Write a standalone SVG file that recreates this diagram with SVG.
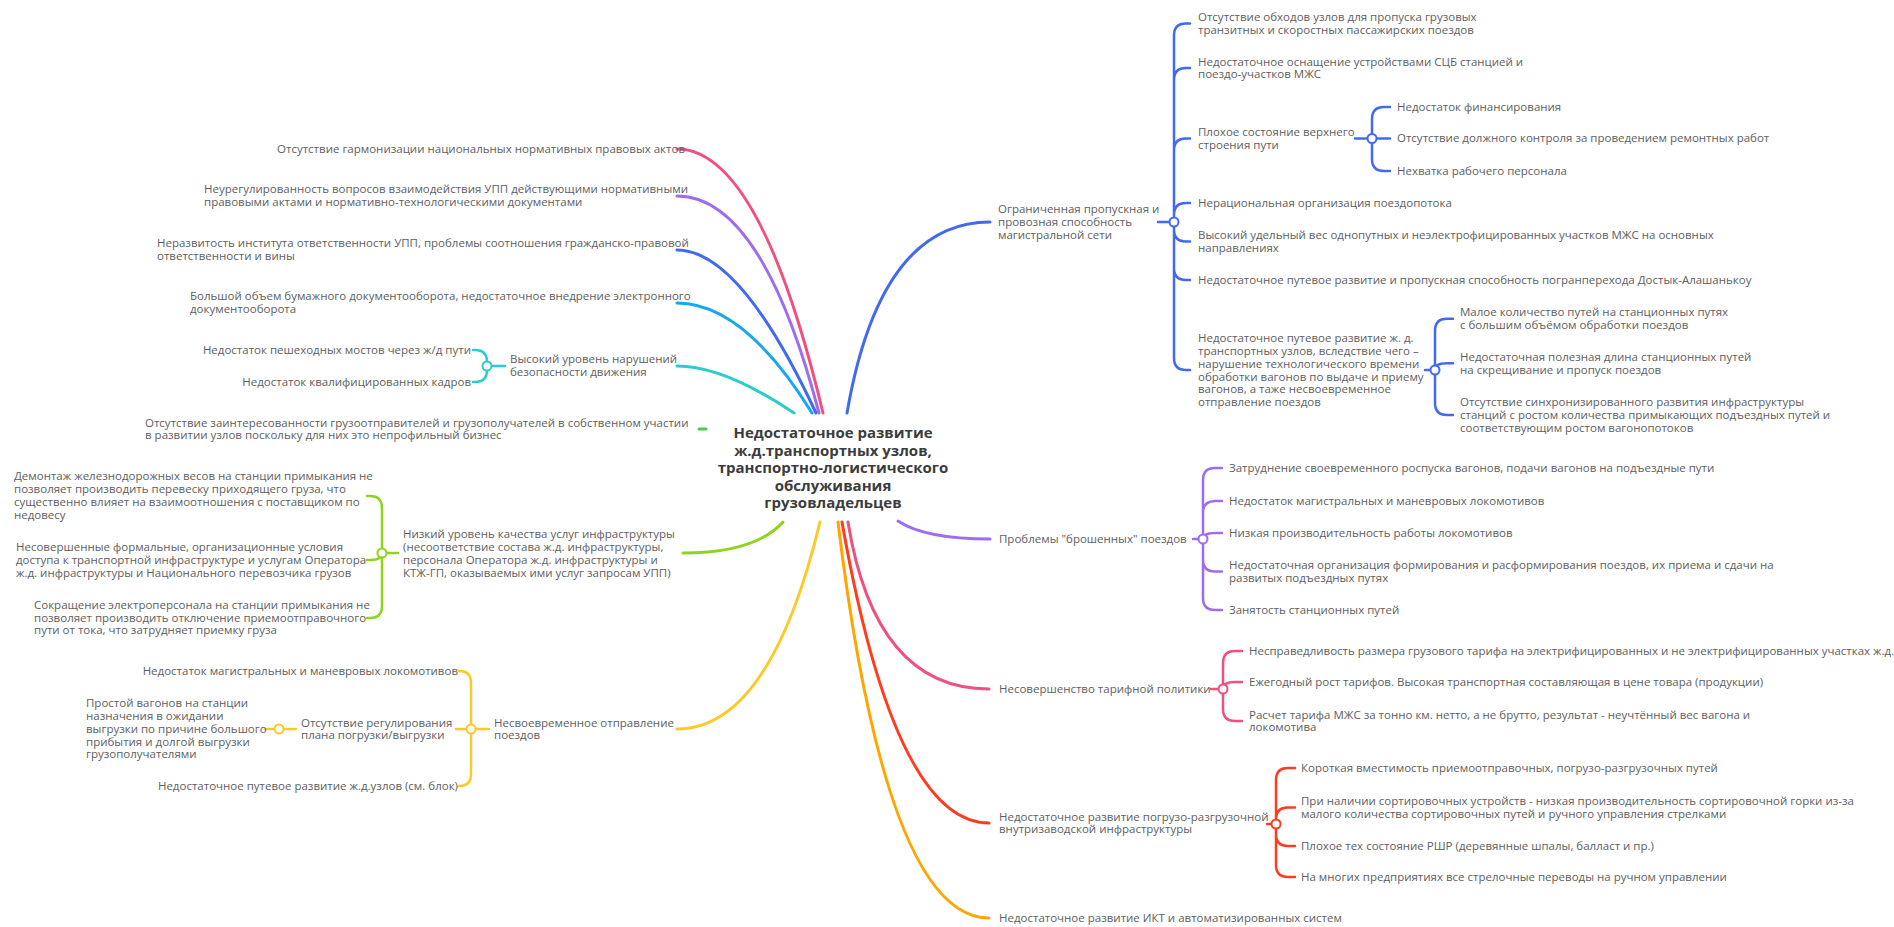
<svg xmlns="http://www.w3.org/2000/svg" width="1894" height="927" viewBox="0 0 1894 927">
<style>
.t{font-family:"Open Sans","Noto Sans",sans-serif;font-size:11.5px;fill:#5e5e5e}
.e{text-anchor:end}
.c{font-family:"Open Sans","Noto Sans",sans-serif;font-size:15px;font-weight:700;fill:#3c3c3c;text-anchor:middle}
.m{fill:none;stroke-width:3;stroke-linecap:round}
.s{fill:none;stroke-width:2.5;stroke-linecap:round}
.k{fill:#fff;stroke-width:2}
.pink{stroke:#f0507f}.purple{stroke:#9d6df0}.blue{stroke:#4169f2}.lblue{stroke:#17a6f2}.cyan{stroke:#2dcccc}
.green{stroke:#4cc84c}.lime{stroke:#8ed41c}.yellow{stroke:#fdc82a}.red{stroke:#ff3c1e}.orange{stroke:#ffa500}
</style>
<rect width="1894" height="927" fill="#fff"/>
<g id="connectors">
<path class="m pink" d="M677 149Q760 149 823 413"/>
<path class="m purple" d="M677 196Q762 196 819 413"/>
<path class="m blue" d="M677 250Q740 250 816 413"/>
<path class="m lblue" d="M677 303Q744 303 812 413"/>
<path class="m cyan" d="M677 366Q724 366 794 413"/>
<path class="m green" d="M699 429H706"/>
<path class="m lime" d="M683 553Q755 553 783 522"/>
<path class="m yellow" d="M677 729Q770 729 820 522"/>
<path class="m blue" d="M847 413Q880 222 990 222"/>
<path class="m purple" d="M898 521Q925 539 990 539"/>
<path class="m pink" d="M848 522Q875 689 989 689"/>
<path class="m red" d="M842 522Q895 823 989 823"/>
<path class="m orange" d="M838 522Q886 918 989 918"/>
<!-- R1 bracket -->
<path class="s blue" d="M1158 222H1174M1174 222V35.5Q1174 23.5 1186 23.5H1190M1174 222V80Q1174 68 1186 68H1190M1174 222V150.5Q1174 138.5 1186 138.5H1190M1174 222V215Q1174 203 1186 203H1190M1174 222V229.5Q1174 241.5 1186 241.5H1190M1174 222V268Q1174 280 1186 280H1190M1174 222V358Q1174 370 1186 370H1190"/>
<path class="s blue" d="M1355 138.5H1372M1372 138.5V119Q1372 107 1384 107H1390M1372 138.5H1390M1372 138.5V159Q1372 171 1384 171H1390"/>
<path class="s blue" d="M1425 370H1435M1435 370V330.7Q1435 318.7 1447 318.7H1453M1435 370Q1435 363.3 1447 363.3H1453M1435 370V403Q1435 415 1447 415H1453"/>
<!-- R2 -->
<path class="s purple" d="M1193 539H1203M1203 539V480Q1203 468 1215 468H1222M1203 539V513Q1203 501 1215 501H1222M1203 539Q1203 533 1215 533H1222M1203 539V559.5Q1203 571.5 1215 571.5H1222M1203 539V598Q1203 610 1215 610H1222"/>
<!-- R3 -->
<path class="s pink" d="M1211 689H1223M1223 689V663Q1223 651 1235 651H1242M1223 689Q1223 682 1235 682H1242M1223 689V709Q1223 721 1235 721H1242"/>
<!-- R4 -->
<path class="s red" d="M1267 824H1276M1276 824V780Q1276 768 1288 768H1295M1276 824V819.5Q1276 807.5 1288 807.5H1295M1276 824V834Q1276 846 1288 846H1295M1276 824V865Q1276 877 1288 877H1295"/>
<!-- L5 -->
<path class="s cyan" d="M487 366H505M487 366V362Q487 350 475 350H473M487 366V370Q487 382 475 382H473"/>
<!-- L7 -->
<path class="s lime" d="M382 553H398M382 553V508Q382 496 370 496H367M382 553Q382 560 370 560H367M382 553V606Q382 618 370 618H367"/>
<!-- L8 -->
<path class="s yellow" d="M471 729H489M471 729V683Q471 671 459 671M471 729H456M471 729V774Q471 786 459 786M279 729H296M279 729H265"/>
<circle class="k blue" cx="1174" cy="222" r="4.5"/>
<circle class="k blue" cx="1372" cy="138.5" r="4.5"/>
<circle class="k blue" cx="1435" cy="370" r="4.5"/>
<circle class="k purple" cx="1203" cy="539" r="4.5"/>
<circle class="k pink" cx="1223" cy="689" r="4.5"/>
<circle class="k red" cx="1276" cy="824" r="4.5"/>
<circle class="k cyan" cx="487" cy="366" r="4.5"/>
<circle class="k lime" cx="382" cy="553" r="4.5"/>
<circle class="k yellow" cx="471" cy="729" r="4.5"/>
<circle class="k yellow" cx="279" cy="729" r="4.5"/>
</g>
<g id="central"><text class="c"><tspan x="833" y="438">Недостаточное развитие</tspan><tspan x="833" y="455.5">ж.д.транспортных узлов,</tspan><tspan x="833" y="473">транспортно-логистического</tspan><tspan x="833" y="490.5">обслуживания</tspan><tspan x="833" y="508">грузовладельцев</tspan></text></g>
<g id="r1"><text class="t"><tspan x="998" y="213">Ограниченная пропускная и</tspan><tspan x="998" y="226">провозная способность</tspan><tspan x="998" y="239">магистральной сети</tspan></text></g>
<g id="r1-1"><text class="t"><tspan x="1198" y="21">Отсутствие обходов узлов для пропуска грузовых</tspan><tspan x="1198" y="34">транзитных и скоростных пассажирских поездов</tspan></text></g>
<g id="r1-2"><text class="t"><tspan x="1198" y="66">Недостаточное оснащение устройствами СЦБ станцией и</tspan><tspan x="1198" y="78">поездо-участков МЖС</tspan></text></g>
<g id="r1-3"><text class="t"><tspan x="1198" y="136">Плохое состояние верхнего</tspan><tspan x="1198" y="149">строения пути</tspan></text></g>
<g id="r1-3-1"><text class="t" x="1397" y="111">Недостаток финансирования</text></g>
<g id="r1-3-2"><text class="t" x="1397" y="142">Отсутствие должного контроля за проведением ремонтных работ</text></g>
<g id="r1-3-3"><text class="t" x="1397" y="175">Нехватка рабочего персонала</text></g>
<g id="r1-4"><text class="t" x="1198" y="207">Нерациональная организация поездопотока</text></g>
<g id="r1-5"><text class="t"><tspan x="1198" y="239">Высокий удельный вес однопутных и неэлектрофицированных участков МЖС на основных</tspan><tspan x="1198" y="252">направлениях</tspan></text></g>
<g id="r1-6"><text class="t" x="1198" y="284">Недостаточное путевое развитие и пропускная способность погранперехода Достык-Алашанькоу</text></g>
<g id="r1-7"><text class="t"><tspan x="1198" y="342">Недостаточное путевое развитие ж. д.</tspan><tspan x="1198" y="355">транспортных узлов, вследствие чего –</tspan><tspan x="1198" y="368">нарушение технологического времени</tspan><tspan x="1198" y="380.5">обработки вагонов по выдаче и приему</tspan><tspan x="1198" y="393">вагонов, а таже несвоевременное</tspan><tspan x="1198" y="406">отправление поездов</tspan></text></g>
<g id="r1-7-1"><text class="t"><tspan x="1460" y="316">Малое количество путей на станционных путях</tspan><tspan x="1460" y="329">с большим объёмом обработки поездов</tspan></text></g>
<g id="r1-7-2"><text class="t"><tspan x="1460" y="361">Недостаточная полезная длина станционных путей</tspan><tspan x="1460" y="374">на скрещивание и пропуск поездов</tspan></text></g>
<g id="r1-7-3"><text class="t"><tspan x="1460" y="406">Отсутствие синхронизированного развития инфраструктуры</tspan><tspan x="1460" y="419">станций с ростом количества примыкающих подъездных путей и</tspan><tspan x="1460" y="432">соответствующим ростом вагонопотоков</tspan></text></g>
<g id="r2"><text class="t" x="999" y="543">Проблемы "брошенных" поездов</text></g>
<g id="r2-1"><text class="t" x="1229" y="472">Затруднение своевременного роспуска вагонов, подачи вагонов на подъездные пути</text></g>
<g id="r2-2"><text class="t" x="1229" y="505">Недостаток магистральных и маневровых локомотивов</text></g>
<g id="r2-3"><text class="t" x="1229" y="537">Низкая производительность работы локомотивов</text></g>
<g id="r2-4"><text class="t"><tspan x="1229" y="569">Недостаточная организация формирования и расформирования поездов, их приема и сдачи на</tspan><tspan x="1229" y="582">развитых подъездных путях</tspan></text></g>
<g id="r2-5"><text class="t" x="1229" y="614">Занятость станционных путей</text></g>
<g id="r3"><text class="t" x="999" y="693">Несовершенство тарифной политики</text></g>
<g id="r3-1"><text class="t" x="1249" y="655">Несправедливость размера грузового тарифа на электрифицированных и не электрифицированных участках ж.д.</text></g>
<g id="r3-2"><text class="t" x="1249" y="686">Ежегодный рост тарифов. Высокая транспортная составляющая в цене товара (продукции)</text></g>
<g id="r3-3"><text class="t"><tspan x="1249" y="719">Расчет тарифа МЖС за тонно км. нетто, а не брутто, результат - неучтённый вес вагона и</tspan><tspan x="1249" y="731">локомотива</tspan></text></g>
<g id="r4"><text class="t"><tspan x="999" y="821">Недостаточное развитие погрузо-разгрузочной</tspan><tspan x="999" y="833">внутризаводской инфраструктуры</tspan></text></g>
<g id="r4-1"><text class="t" x="1301" y="772">Короткая вместимость приемоотправочных, погрузо-разгрузочных путей</text></g>
<g id="r4-2"><text class="t"><tspan x="1301" y="805">При наличии сортировочных устройств - низкая производительность сортировочной горки из-за</tspan><tspan x="1301" y="818">малого количества сортировочных путей и ручного управления стрелками</tspan></text></g>
<g id="r4-3"><text class="t" x="1301" y="850">Плохое тех состояние РШР (деревянные шпалы, балласт и пр.)</text></g>
<g id="r4-4"><text class="t" x="1301" y="881">На многих предприятиях все стрелочные переводы на ручном управлении</text></g>
<g id="r5"><text class="t" x="999" y="922">Недостаточное развитие ИКТ и автоматизированных систем</text></g>
<g id="l1"><text class="t e" x="685" y="153">Отсутствие гармонизации национальных нормативных правовых актов</text></g>
<g id="l2"><text class="t"><tspan x="204" y="193">Неурегулированность вопросов взаимодействия УПП действующими нормативными</tspan><tspan x="204" y="206">правовыми актами и нормативно-технологическими документами</tspan></text></g>
<g id="l3"><text class="t"><tspan x="157" y="247">Неразвитость института ответственности УПП, проблемы соотношения гражданско-правовой</tspan><tspan x="157" y="260">ответственности и вины</tspan></text></g>
<g id="l4"><text class="t"><tspan x="190" y="300">Большой объем бумажного документооборота, недостаточное внедрение электронного</tspan><tspan x="190" y="313">документооборота</tspan></text></g>
<g id="l5"><text class="t"><tspan x="510" y="363">Высокий уровень нарушений</tspan><tspan x="510" y="376">безопасности движения</tspan></text></g>
<g id="l5-1"><text class="t e" x="471" y="354">Недостаток пешеходных мостов через ж/д пути</text></g>
<g id="l5-2"><text class="t e" x="471" y="386">Недостаток квалифицированных кадров</text></g>
<g id="l6"><text class="t"><tspan x="145" y="427">Отсутствие заинтересованности грузоотправителей и грузополучателей в собственном участии</tspan><tspan x="145" y="439">в развитии узлов поскольку для них это непрофильный бизнес</tspan></text></g>
<g id="l7"><text class="t"><tspan x="403" y="538">Низкий уровень качества услуг инфраструктуры</tspan><tspan x="403" y="551">(несоответствие состава ж.д. инфраструктуры,</tspan><tspan x="403" y="564">персонала Оператора ж.д.  инфраструктуры и</tspan><tspan x="403" y="577">КТЖ-ГП, оказываемых ими услуг запросам УПП)</tspan></text></g>
<g id="l7-1"><text class="t"><tspan x="14" y="480">Демонтаж железнодорожных весов на станции примыкания не</tspan><tspan x="14" y="493">позволяет производить перевеску приходящего груза, что</tspan><tspan x="14" y="506">существенно влияет на взаимоотношения с поставщиком по</tspan><tspan x="14" y="519">недовесу</tspan></text></g>
<g id="l7-2"><text class="t"><tspan x="16" y="551">Несовершенные формальные, организационные  условия</tspan><tspan x="16" y="564">доступа к транспортной инфраструктуре и услугам Оператора</tspan><tspan x="16" y="577">ж.д. инфраструктуры и Национального перевозчика грузов</tspan></text></g>
<g id="l7-3"><text class="t"><tspan x="34" y="609">Сокращение электроперсонала на станции примыкания не</tspan><tspan x="34" y="622">позволяет производить отключение приемоотправочного</tspan><tspan x="34" y="634">пути от тока, что затрудняет приемку груза</tspan></text></g>
<g id="l8"><text class="t"><tspan x="494" y="727">Несвоевременное отправление</tspan><tspan x="494" y="739">поездов</tspan></text></g>
<g id="l8-1"><text class="t e" x="458" y="675">Недостаток магистральных и маневровых локомотивов</text></g>
<g id="l8-2"><text class="t"><tspan x="301" y="727">Отсутствие регулирования</tspan><tspan x="301" y="739">плана погрузки/выгрузки</tspan></text></g>
<g id="l8-2-1"><text class="t"><tspan x="86" y="707">Простой вагонов на станции</tspan><tspan x="86" y="720">назначения в ожидании</tspan><tspan x="86" y="733">выгрузки по причине большого</tspan><tspan x="86" y="746">прибытия и долгой выгрузки</tspan><tspan x="86" y="758">грузополучателями</tspan></text></g>
<g id="l8-3"><text class="t e" x="458" y="790">Недостаточное путевое развитие ж.д.узлов (см. блок)</text></g>
</svg>
